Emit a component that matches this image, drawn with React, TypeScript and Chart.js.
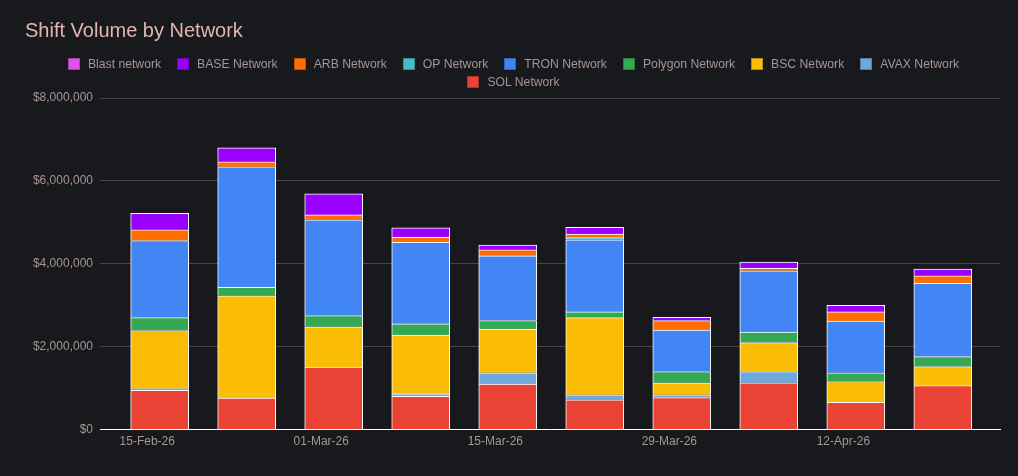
import React, { useEffect, useRef } from 'react';
import { Chart, registerables } from 'chart.js';

Chart.register(...registerables);

// ---- data ----
const axisOrigin = '2026-02-15';
const weekStarts = [
  '2026-02-16', '2026-02-23', '2026-03-02', '2026-03-09', '2026-03-16',
  '2026-03-23', '2026-03-30', '2026-04-06', '2026-04-13', '2026-04-20',
];
const xTickDates = ['2026-02-15', '2026-03-01', '2026-03-15', '2026-03-29', '2026-04-12'];
const xTickLabels = ['15-Feb-26', '01-Mar-26', '15-Mar-26', '29-Mar-26', '12-Apr-26'];

const solNetwork = [950000, 760000, 1510000, 800000, 1100000, 720000, 770000, 1130000, 660000, 1060000];
const avaxNetwork = [40000, 0, 0, 60000, 270000, 120000, 70000, 270000, 0, 0];
const bscNetwork = [1400000, 2470000, 970000, 1420000, 1050000, 1860000, 290000, 700000, 500000, 460000];
const polygonNetwork = [310000, 200000, 270000, 270000, 210000, 140000, 270000, 250000, 210000, 240000];
const tronNetwork = [1860000, 2910000, 2310000, 1970000, 1560000, 1740000, 1000000, 1480000, 1250000, 1770000];
const opNetwork = [0, 0, 0, 0, 0, 50000, 0, 0, 0, 0];
const arbNetwork = [260000, 120000, 120000, 120000, 150000, 90000, 230000, 60000, 220000, 180000];
const baseNetwork = [400000, 340000, 510000, 230000, 110000, 160000, 80000, 150000, 160000, 160000];
const blastNetwork = [0, 0, 0, 0, 0, 0, 0, 0, 0, 0];

// stacking order bottom -> top
const series = [
  { name: 'SOL Network', values: solNetwork, color: '#ea4335' },
  { name: 'AVAX Network', values: avaxNetwork, color: '#6fa8dc' },
  { name: 'BSC Network', values: bscNetwork, color: '#fbbc04' },
  { name: 'Polygon Network', values: polygonNetwork, color: '#34a853' },
  { name: 'TRON Network', values: tronNetwork, color: '#4285f4' },
  { name: 'OP Network', values: opNetwork, color: '#46bdc6' },
  { name: 'ARB Network', values: arbNetwork, color: '#ff6d01' },
  { name: 'BASE Network', values: baseNetwork, color: '#9900ff' },
  { name: 'Blast network', values: blastNetwork, color: '#e052e6' },
];
const legendPerRow = 8;

// ---- styles ----
const FONT = "'Liberation Sans', Arial, sans-serif";
const BG = '#18191c';
const TITLE_COLOR = '#e3b3b3';
const TEXT_COLOR = '#a89494';
const GRID_COLOR = '#454545';

const dayOf = (iso: string) => (Date.parse(iso) - Date.parse(axisOrigin)) / 86400000;
const tickDays = xTickDates.map(dayOf);

export default function App() {
  const ref = useRef<HTMLCanvasElement>(null);

  useEffect(() => {
    document.body.style.margin = '0';
    document.body.style.background = BG;
    const chart = new Chart(ref.current as HTMLCanvasElement, {
      type: 'bar',
      data: {
        datasets: series.map((s) => ({
          label: s.name,
          data: weekStarts.map((d, i) => ({ x: dayOf(d), y: s.values[i] })),
          backgroundColor: s.color,
          borderColor: '#ffffff',
          borderWidth: 1,
          borderSkipped: 'start',
          barThickness: 58,
        })),
      } as any,
      options: {
        responsive: false,
        animation: false,
        layout: { padding: { left: 25, right: 18, top: 0, bottom: 22 } },
        plugins: {
          legend: { display: false },
          tooltip: { enabled: false },
          title: {
            display: true,
            text: 'Shift Volume by Network',
            align: 'start',
            color: TITLE_COLOR,
            font: { size: 20, family: FONT, weight: 'normal' },
            padding: { top: 19, bottom: 55 },
          },
        },
        scales: {
          x: {
            type: 'linear',
            stacked: true,
            offset: false,
            min: -3.8,
            max: 68.6,
            grid: { display: false, drawTicks: false, offset: false },
            border: { display: true, color: '#ffffff', width: 1 },
            afterBuildTicks: (scale: any) => {
              scale.ticks = tickDays.map((v) => ({ value: v }));
            },
            ticks: {
              color: TEXT_COLOR,
              font: { size: 12, family: FONT },
              padding: 5,
              maxRotation: 0,
              autoSkip: false,
              callback: (_v: any, i: number) => xTickLabels[i],
            },
          },
          y: {
            stacked: true,
            min: 0,
            max: 8000000,
            border: { display: false },
            grid: {
              drawTicks: false,
              color: (ctx: any) => (ctx.tick && ctx.tick.value === 0 ? 'rgba(0,0,0,0)' : GRID_COLOR),
            },
            afterFit: (scale: any) => {
              scale.width = 75;
            },
            ticks: {
              stepSize: 2000000,
              color: TEXT_COLOR,
              font: { size: 12, family: FONT },
              padding: 7,
              callback: (v: any) => '$' + Number(v).toLocaleString('en-US'),
            },
          },
        },
      } as any,
    });
    return () => chart.destroy();
  }, []);

  const legendOrder = [...series].reverse();
  const rows = [legendOrder.slice(0, legendPerRow), legendOrder.slice(legendPerRow)];

  return (
    <div style={{ position: 'relative', width: 1018, height: 476, background: BG, overflow: 'hidden' }}>
      <canvas ref={ref} width={1018} height={476} style={{ display: 'block' }} />
      <div
        style={{
          position: 'absolute',
          left: 9,
          width: 1009,
          top: 55,
          fontFamily: FONT,
          fontSize: 12.2,
          color: TEXT_COLOR,
        }}
      >
        {rows.map((row, r) => (
          <div
            key={r}
            style={{ display: 'flex', justifyContent: 'center', alignItems: 'center', columnGap: 16, height: 18 }}
          >
            {row.map((s) => (
              <span key={s.name} style={{ display: 'inline-flex', alignItems: 'center', whiteSpace: 'nowrap' }}>
                <span
                  style={{
                    display: 'inline-block',
                    width: 12,
                    height: 12,
                    background: s.color,
                    marginRight: 8,
                    boxShadow: 'inset 0 0 0 1px rgba(0,0,0,0.25)',
                  }}
                />
                {s.name}
              </span>
            ))}
          </div>
        ))}
      </div>
    </div>
  );
}
